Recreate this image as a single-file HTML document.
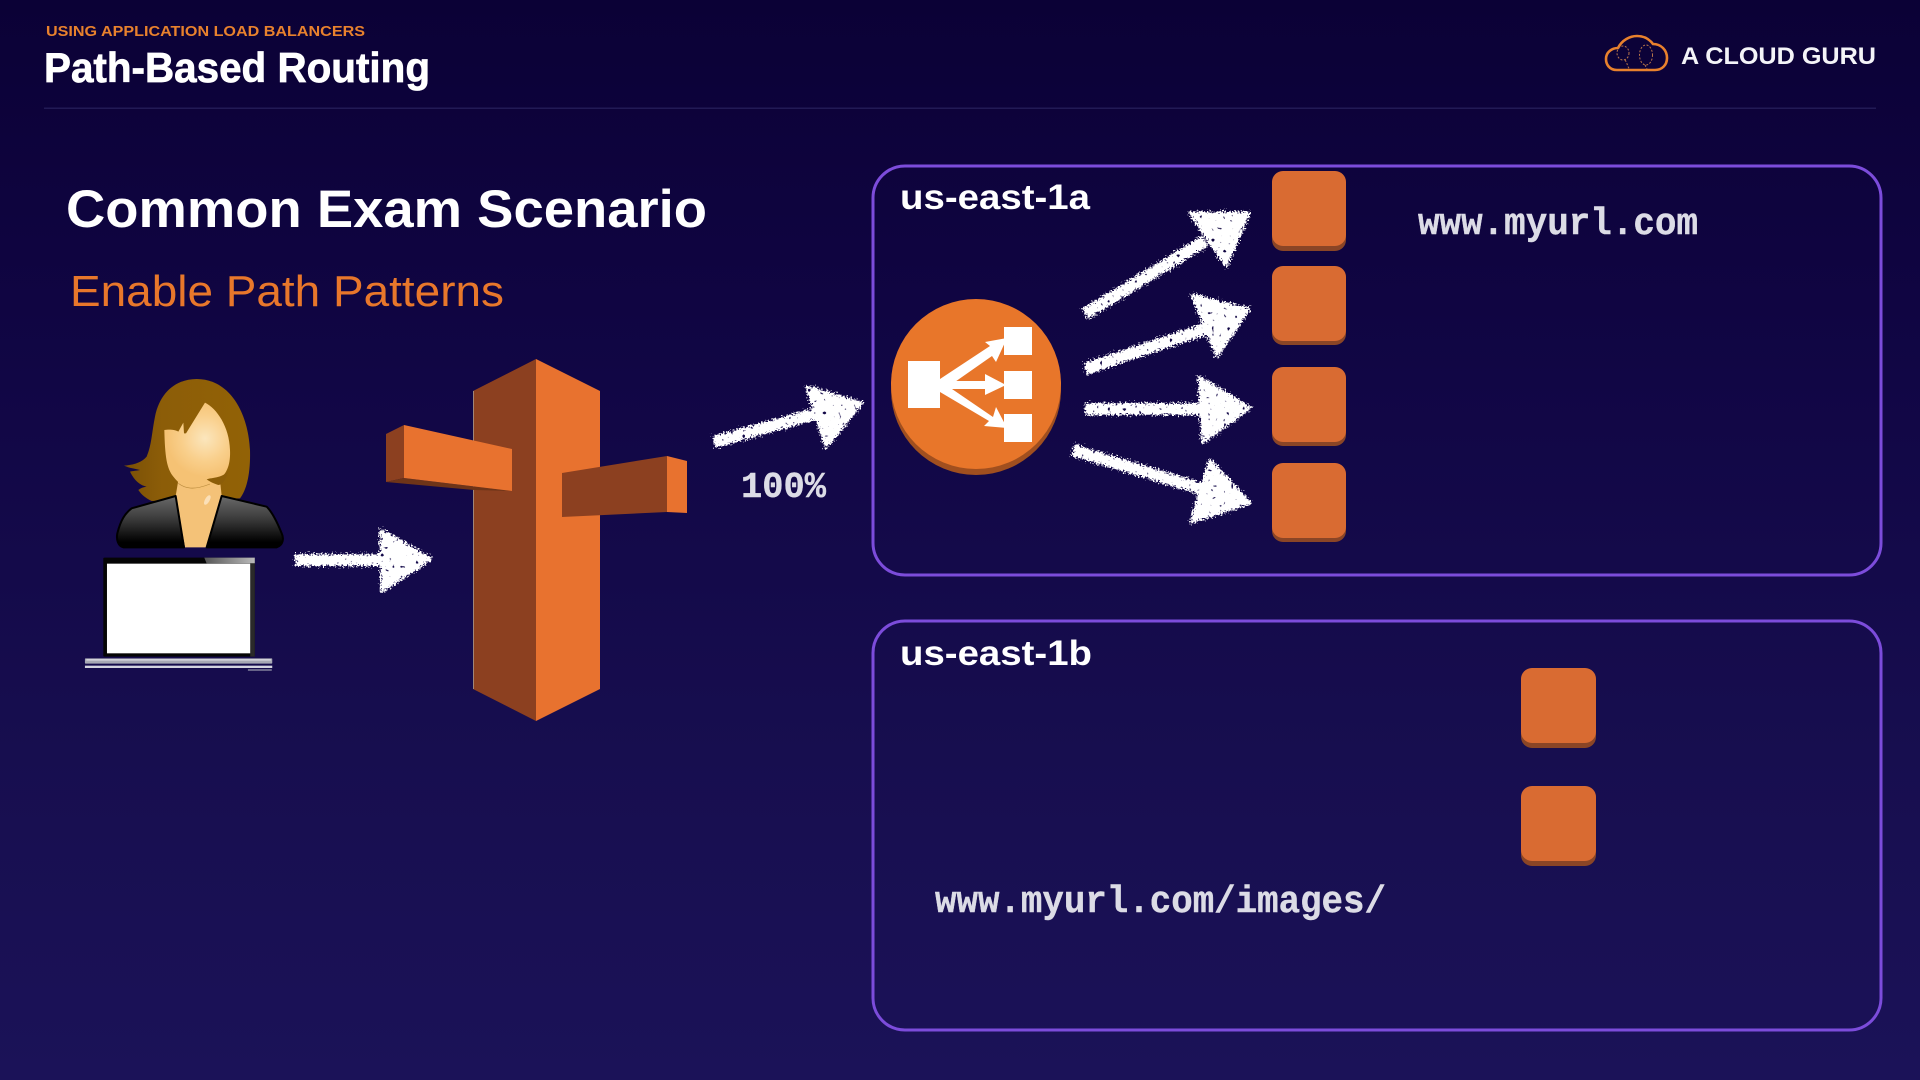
<!DOCTYPE html>
<html lang="en">
<head>
<meta charset="utf-8">
<title>Path-Based Routing</title>
<style>
html,body{margin:0;padding:0;width:1920px;height:1080px;overflow:hidden;background:#120a48}
svg{display:block}
text{font-family:"Liberation Sans",sans-serif}
.m{font-family:"Liberation Mono",monospace;font-weight:700;fill:#dcdce6;stroke:#dcdce6;stroke-width:.4}
</style>
</head>
<body>
<svg xmlns="http://www.w3.org/2000/svg" width="1920" height="1080" viewBox="0 0 1920 1080">
<defs>
<linearGradient id="bg" x1="0" y1="0" x2="0" y2="1">
<stop offset="0" stop-color="#0b0136"/>
<stop offset=".35" stop-color="#110645"/>
<stop offset=".7" stop-color="#170e4f"/>
<stop offset="1" stop-color="#1b1258"/>
</linearGradient>
<filter id="chalk" x="-15%" y="-25%" width="130%" height="150%" color-interpolation-filters="sRGB">
<feTurbulence type="fractalNoise" baseFrequency=".6" numOctaves="2" seed="3" result="n"/>
<feDisplacementMap in="SourceGraphic" in2="n" scale="10" xChannelSelector="R" yChannelSelector="G" result="d"/>
<feTurbulence type="fractalNoise" baseFrequency=".26" numOctaves="1" seed="9" result="m"/>
<feColorMatrix in="m" type="matrix" values="0 0 0 0 0 0 0 0 0 0 0 0 0 0 0 14 0 0 0 -3.5" result="holes"/>
<feComposite in="d" in2="holes" operator="in"/>
</filter>
<linearGradient id="jacket" x1="0" y1="0" x2="0" y2="1">
<stop offset="0" stop-color="#6a6a6a"/><stop offset=".45" stop-color="#3a3a3a"/><stop offset=".9" stop-color="#000"/>
</linearGradient>
<radialGradient id="face" gradientUnits="userSpaceOnUse" cx="285" cy="205" r="115">
<stop offset="0" stop-color="#fbe6bd"/><stop offset=".6" stop-color="#f9cf8b"/><stop offset="1" stop-color="#f5c274"/>
</radialGradient>
<linearGradient id="hair" x1="0" y1="0" x2="1" y2="0">
<stop offset="0" stop-color="#7a5006"/><stop offset=".3" stop-color="#8c5d08"/><stop offset="1" stop-color="#926206"/>
</linearGradient>
<linearGradient id="lap" x1="0" y1="0" x2="1" y2="0">
<stop offset="0" stop-color="#555"/><stop offset="1" stop-color="#bbb"/>
</linearGradient>
</defs>
<rect width="1920" height="1080" fill="url(#bg)"/>

<!-- Header -->
<text x="46" y="36" font-size="14.5" font-weight="700" fill="#e8812d" textLength="319" lengthAdjust="spacingAndGlyphs">USING APPLICATION LOAD BALANCERS</text>
<text x="44" y="82" font-size="42" font-weight="700" fill="#fff" stroke="#fff" stroke-width=".7" textLength="386" lengthAdjust="spacingAndGlyphs">Path-Based Routing</text>
<rect x="44" y="107.5" width="1832" height="1.5" fill="#221a55"/>

<!-- Logo -->
<path d="M1617,70 C1609,70 1606,64 1606,59 C1606,52 1612,48 1618,48 C1622,40 1630,36 1637,36 C1645,36 1650,40 1653,44 C1661,44 1667,50 1667,58 C1667,65 1662,70 1655,70 Z" fill="none" stroke="#e8812d" stroke-width="2.6"/>
<g fill="none" stroke="#b9764a" stroke-width="1" stroke-dasharray="2 1.6">
<ellipse cx="1623" cy="53" rx="6" ry="7"/><path d="M1625,60 C1628,64 1627,67 1630,69"/>
<ellipse cx="1646" cy="55" rx="6.5" ry="10"/><path d="M1645,65 L1647,69"/>
</g>
<text x="1681" y="64" font-size="24" font-weight="700" fill="#f4f4f8" textLength="195" lengthAdjust="spacingAndGlyphs">A CLOUD GURU</text>

<!-- Left headings -->
<text x="66" y="227" font-size="53" font-weight="700" fill="#fff" textLength="641" lengthAdjust="spacingAndGlyphs">Common Exam Scenario</text>
<text x="70" y="306" font-size="44" fill="#e8772b" textLength="434" lengthAdjust="spacingAndGlyphs">Enable Path Patterns</text>

<!-- Regions -->
<rect x="873" y="166" width="1008" height="409" rx="32" fill="none" stroke="#7c4cdb" stroke-width="3"/>
<rect x="873" y="621" width="1008" height="409" rx="32" fill="none" stroke="#7c4cdb" stroke-width="3"/>
<text x="900" y="209" font-size="35" font-weight="700" fill="#fff" textLength="190" lengthAdjust="spacingAndGlyphs">us-east-1a</text>
<text x="900" y="665" font-size="35" font-weight="700" fill="#fff" textLength="192" lengthAdjust="spacingAndGlyphs">us-east-1b</text>
<text class="m" x="1418" y="234" font-size="38" textLength="280" lengthAdjust="spacingAndGlyphs">www.myurl.com</text>
<text class="m" x="935" y="912" font-size="38" textLength="451" lengthAdjust="spacingAndGlyphs">www.myurl.com/images/</text>
<text class="m" x="741" y="497" font-size="36" textLength="85" lengthAdjust="spacingAndGlyphs">100%</text>

<!-- Instances -->
<g>
<rect x="1272" y="176" width="74" height="75" rx="11" fill="#8a4526"/><rect x="1272" y="171" width="74" height="75" rx="11" fill="#d96b32"/>
<rect x="1272" y="270" width="74" height="75" rx="11" fill="#8a4526"/><rect x="1272" y="266" width="74" height="75" rx="11" fill="#d96b32"/>
<rect x="1272" y="371" width="74" height="75" rx="11" fill="#8a4526"/><rect x="1272" y="367" width="74" height="75" rx="11" fill="#d96b32"/>
<rect x="1272" y="467" width="74" height="75" rx="11" fill="#8a4526"/><rect x="1272" y="463" width="74" height="75" rx="11" fill="#d96b32"/>
<rect x="1521" y="673" width="75" height="75" rx="11" fill="#8a4526"/><rect x="1521" y="668" width="75" height="75" rx="11" fill="#d96b32"/>
<rect x="1521" y="791" width="75" height="75" rx="11" fill="#8a4526"/><rect x="1521" y="786" width="75" height="75" rx="11" fill="#d96b32"/>
</g>

<!-- ELB -->
<circle cx="976" cy="390" r="85" fill="#a04f1f"/>
<circle cx="976" cy="384" r="85" fill="#e8762a"/>
<g fill="#fff">
<rect x="908" y="361" width="32" height="47"/>
<rect x="1004" y="327" width="28" height="28"/>
<rect x="1004" y="371" width="28" height="28"/>
<rect x="1004" y="414" width="28" height="28"/>
<polygon points="940,379 990,346 985,342 1007,338 996,362 992,356 952,384 940,384"/>
<polygon points="940,381 985,381 985,374 1006,385 985,395 985,389 940,389"/>
<polygon points="940,388 952,389 993,417 996,407 1007,428 984,426 989,421 940,392"/>
</g>

<!-- Route 53 -->
<g>
<polygon points="473,391 536,359 536,721 473,689" fill="#8c4020"/>
<polygon points="536,359 600,391 600,689 536,721" fill="#e8722f"/>
<rect x="473" y="391" width="1" height="298" fill="#a08678"/>
<polygon points="386,434 404,425 404,478 386,482" fill="#8c4020"/>
<polygon points="386,482 404,478 512,491 474,490" fill="#6e3418"/>
<polygon points="404,425 512,449 512,491 404,478" fill="#e8722f"/>
<polygon points="562,473 667,456 667,512 562,517" fill="#8c4020"/>
<polygon points="667,456 687,461 687,513 667,512" fill="#e8722f"/>
</g>

<!-- Person -->
<g transform="translate(110 370) scale(.33333)">
<path d="M260,27 C200,27 150,65 135,140 C125,190 125,225 110,260 C95,278 70,285 42,287 C55,293 70,295 90,300 C75,303 65,303 60,305 C70,325 85,345 110,350 C100,352 95,353 85,360 C95,375 108,385 125,393 L390,385 C410,360 422,310 420,240 C415,130 360,27 260,27 Z" fill="url(#hair)"/>
<path d="M205,330 L197,378 L225,532 L290,532 L335,378 L330,330 Z" fill="#f4c278"/>
<path d="M197,378 L222,532 L40,532 C25,528 18,510 22,490 C32,450 45,430 65,415 Z" fill="url(#jacket)" stroke="#000" stroke-width="6" stroke-linejoin="round"/>
<path d="M335,378 L290,532 L500,532 C520,525 522,505 515,490 C505,465 490,430 470,410 Z" fill="url(#jacket)" stroke="#000" stroke-width="6" stroke-linejoin="round"/>
<path d="M285,98 C320,115 358,170 360,240 C362,280 352,310 330,325 C305,350 275,362 250,360 C225,355 205,340 190,320 C170,295 165,260 163,180 C175,178 195,178 205,185 L220,158 L222,190 L228,190 Z" fill="url(#face)"/>
<path d="M205,340 C225,355 250,362 300,342" fill="none" stroke="#b98a3c" stroke-width="2"/>
<path d="M290,328 C310,322 330,325 355,305 C345,335 335,345 325,345 C310,340 300,335 290,328 Z" fill="#8c5d08"/>
<ellipse cx="292" cy="390" rx="7" ry="16" transform="rotate(30 292 390)" fill="#fbe0b8"/>
</g>

<!-- Laptop -->
<g transform="scale(.4591 .33333) translate(0 1020)">
<rect x="225" y="653" width="330" height="297" rx="3" fill="#050505"/>
<polygon points="445,653 555,653 555,670 450,670" fill="url(#lap)"/>
<rect x="545" y="670" width="10" height="280" fill="#2a2a2a"/>
<rect x="233" y="671" width="312" height="269" fill="#fff"/>
<rect x="185" y="955" width="408" height="16" rx="2" fill="#a7a9b4"/>
<rect x="188" y="957" width="402" height="5" fill="#d2d3da"/>
<rect x="185" y="977" width="408" height="7" fill="#d4d5e0"/>
<rect x="540" y="988" width="52" height="4" fill="#8f90a6"/>
</g>

<!-- Chalk arrows -->
<g fill="#fff" stroke="#fff" stroke-linejoin="round">
<g filter="url(#chalk)"><path d="M295,560 H388" stroke-width="12" fill="none"/><polygon points="381,530 431,559 382,591" stroke-width="3"/></g>
<g filter="url(#chalk)"><path d="M714,442 L815,414" stroke-width="12" fill="none"/><polygon points="807,387 862,403 826,447" stroke-width="3"/></g>
<g filter="url(#chalk)"><path d="M1085,314 L1205,241" stroke-width="12" fill="none"/><polygon points="1190,213 1249,213 1226,266" stroke-width="3"/></g>
<g filter="url(#chalk)"><path d="M1085,369 L1205,329" stroke-width="12" fill="none"/><polygon points="1192,295 1249,309 1217,356" stroke-width="3"/></g>
<g filter="url(#chalk)"><path d="M1085,409 H1205" stroke-width="12" fill="none"/><polygon points="1199,377 1250,408 1203,442" stroke-width="3"/></g>
<g filter="url(#chalk)"><path d="M1073,450 L1205,490" stroke-width="12" fill="none"/><polygon points="1210,460 1250,503 1191,522" stroke-width="3"/></g>
</g>
</svg>
</body>
</html>
